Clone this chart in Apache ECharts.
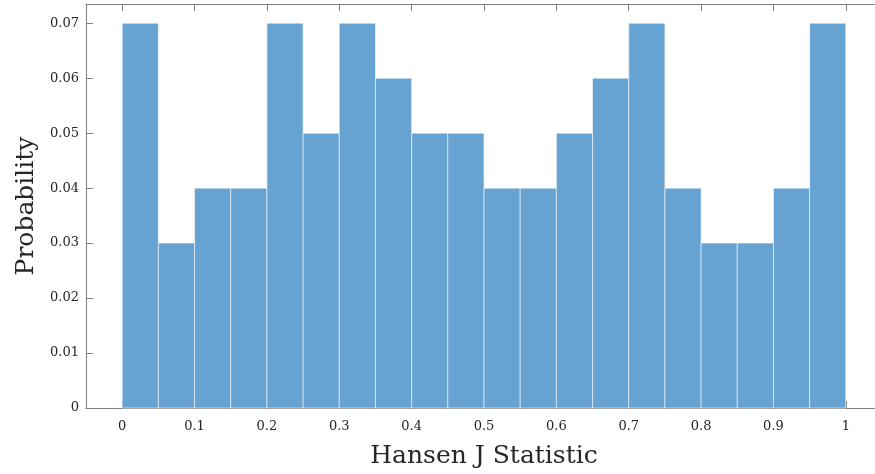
<!DOCTYPE html>
<html>
<head>
<meta charset="utf-8">
<script src="https://cdn.jsdelivr.net/npm/echarts@6/dist/echarts.min.js"></script>
<style>
html,body{margin:0;padding:0;background:#fff;}
#chart{width:875px;height:474px;}
</style>
</head>
<body>
<div id="chart"></div>
<script>
// bin edges (left side of each bar), width 0.05
var binStarts = [0, 0.05, 0.1, 0.15, 0.2, 0.25, 0.3, 0.35, 0.4, 0.45, 0.5, 0.55, 0.6, 0.65, 0.7, 0.75, 0.8, 0.85, 0.9, 0.95];
var binWidth = 0.05;
var probs = [0.07, 0.03, 0.04, 0.04, 0.07, 0.05, 0.07, 0.06, 0.05, 0.05, 0.04, 0.04, 0.05, 0.06, 0.07, 0.04, 0.03, 0.03, 0.04, 0.07];
var xTicks = [0, 0.1, 0.2, 0.3, 0.4, 0.5, 0.6, 0.7, 0.8, 0.9, 1];
var yTicks = [0, 0.01, 0.02, 0.03, 0.04, 0.05, 0.06, 0.07];

var font = '"Palatino Linotype", "Book Antiqua", Palatino, "DejaVu Serif", serif';
var axisGrey = '#808080';
var textCol = '#262626';

var myChart = echarts.init(document.getElementById('chart'));

var data = binStarts.map(function (s, i) { return [s, s + binWidth, probs[i]]; });

function fmt(v) { return String(Math.round(v * 100) / 100); }

function boxAxis(pos, min, max, ticks) {
    return {
        type: 'value', min: min, max: max, position: pos,
        axisLine: { show: true, onZero: false, lineStyle: { color: axisGrey, width: 1 } },
        axisTick: { show: true, inside: true, length: 7, lineStyle: { color: axisGrey }, customValues: ticks },
        axisLabel: { show: false },
        splitLine: { show: false }
    };
}

var option = {
    animation: false,
    grid: { left: 86, top: 4, width: 796, height: 404, containLabel: false, outerBoundsMode: 'none' },
    xAxis: [
        {
            type: 'value', min: -0.05, max: 1.05, position: 'bottom',
            name: 'Hansen J Statistic', nameLocation: 'middle', nameGap: 36,
            nameTextStyle: { fontFamily: font, fontSize: 25, color: textCol },
            axisLine: { show: true, onZero: false, lineStyle: { color: axisGrey, width: 1 } },
            axisTick: { show: true, inside: true, length: 7, lineStyle: { color: axisGrey }, customValues: xTicks },
            axisLabel: { customValues: xTicks, formatter: fmt, fontFamily: font, fontSize: 13, color: textCol, margin: 12 },
            splitLine: { show: false }
        },
        boxAxis('top', -0.05, 1.05, xTicks)
    ],
    yAxis: [
        {
            type: 'value', min: 0, max: 0.0735, position: 'left',
            name: 'Probability', nameLocation: 'middle', nameGap: 46,
            nameTextStyle: { fontFamily: font, fontSize: 25, color: textCol },
            axisLine: { show: true, onZero: false, lineStyle: { color: axisGrey, width: 1 } },
            axisTick: { show: true, inside: true, length: 7, lineStyle: { color: axisGrey }, customValues: yTicks },
            axisLabel: { customValues: yTicks, formatter: fmt, fontFamily: font, fontSize: 13, color: textCol, margin: 7 },
            splitLine: { show: false }
        },
        boxAxis('right', 0, 0.0735, yTicks)
    ],
    series: [{
        type: 'custom',
        xAxisIndex: 0,
        yAxisIndex: 0,
        data: data,
        renderItem: function (params, api) {
            var p0 = api.coord([api.value(0), api.value(2)]);
            var p1 = api.coord([api.value(1), 0]);
            return {
                type: 'rect',
                shape: { x: p0[0], y: p0[1], width: p1[0] - p0[0], height: p1[1] - p0[1] },
                style: { fill: '#66a3d2', stroke: 'rgba(255,255,255,0.55)', lineWidth: 1 }
            };
        },
        encode: { x: [0, 1], y: 2 }
    }]
};
myChart.setOption(option);
</script>
</body>
</html>
